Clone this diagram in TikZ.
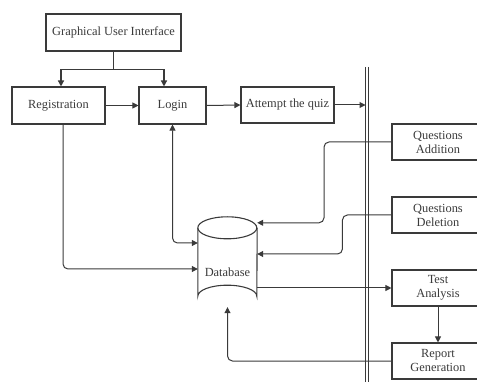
\documentclass[tikz,border=0pt]{standalone}
\usepackage{fontspec}
\setmainfont{Liberation Serif}
\usetikzlibrary{arrows.meta}
\definecolor{ink}{HTML}{3A3A3A}
\begin{document}
\begin{tikzpicture}[x=1pt,y=-1pt,
  box/.style={draw=ink,line width=1.1pt,rectangle,inner sep=1pt,font=\fontsize{12.4}{14}\selectfont,text=ink,align=center},
  conn/.style={draw=ink,line width=1pt,-{Triangle[length=6pt,width=6pt]},rounded corners=5pt},
  thick conn/.style={draw=ink,line width=1.8pt,-{Triangle[length=6pt,width=6pt]},sharp corners}]
\useasboundingbox (0,0) rectangle (477,382);
\clip (0,0) rectangle (477,382);
\node[box,minimum width=135pt,minimum height=37pt] (gui) at (113.5,32.5) {Graphical User Interface};
\node[box,minimum width=93pt,minimum height=37pt] (reg) at (58.5,105.5) {Registration};
\node[box,minimum width=67pt,minimum height=37pt] (login) at (172.5,105.5) {Login};
\node[box,minimum width=93pt,minimum height=36pt] (quiz) at (287.5,105) {Attempt the quiz};
\node[box,minimum width=92pt,minimum height=36pt] (qa) at (438,142) {Questions\\Addition};
\node[box,minimum width=92pt,minimum height=36pt] (qd) at (438,215) {Questions\\Deletion};
\node[box,minimum width=92pt,minimum height=36pt] (ta) at (438,288) {Test\\Analysis};
\node[box,minimum width=92pt,minimum height=36pt] (rg) at (438,361) {Report\\Generation};
% database cylinder
\node[draw=none,minimum width=59pt,minimum height=90pt,inner sep=0pt] (db) at (227.5,262) {};
\node[text=ink,font=\fontsize{12.4}{14}\selectfont] (dbl) at (227.5,272) {Database};
\draw[ink,line width=1.1pt] (db.north west) ++(0,11) arc[start angle=180,end angle=-180,x radius=29.5pt,y radius=11pt];
\draw[ink,line width=1.1pt] ([yshift=-11pt]db.north west) -- ([yshift=11pt]db.south west)
  arc[start angle=180,end angle=360,x radius=29.5pt,y radius=-11pt] -- ([yshift=-11pt]db.north east);
% double line
\coordinate (barT) at (367,67);
\coordinate (barB) at (367,382);
\draw[ink,line width=0.9pt] ([xshift=-1.8pt]barT) -- ([xshift=-1.8pt]barB);
\draw[ink,line width=0.9pt] ([xshift=1.8pt]barT) -- ([xshift=1.8pt]barB);
\coordinate (quizend) at (365.5,105);
% connectors
\draw[thick conn] (gui.south) -- ++(0,18) -| ([xshift=2.5pt]reg.north);
\draw[thick conn] (gui.south) -- ++(0,18) -| ([xshift=-8.5pt]login.north);
\draw[conn] (reg.east) -- (login.west);
\draw[conn] (login.east) -- (quiz.west);
\draw[conn] (quiz.east) -- (quizend);
\draw[conn] (qa.west) -| ([xshift=96.5pt,yshift=-6pt]db.north) -- ([yshift=-6pt]db.north east);
\draw[conn] (qd.west) -- ++(-49,0) |- ([yshift=8pt]db.east);
\draw[conn] ([yshift=-26pt]db.east) -- (ta.west);
\draw[conn] (ta.south) -- (rg.north);
\draw[conn] (rg.west) -| (db.south);
\draw[draw=ink,line width=1pt,{Triangle[length=6pt,width=6pt]}-{Triangle[length=6pt,width=6pt]},rounded corners=5pt] (login.south) |- ([yshift=19pt]db.west);
\draw[conn] ([xshift=4.5pt]reg.south) |- ([yshift=-7pt]db.west);
\end{tikzpicture}
\end{document}
